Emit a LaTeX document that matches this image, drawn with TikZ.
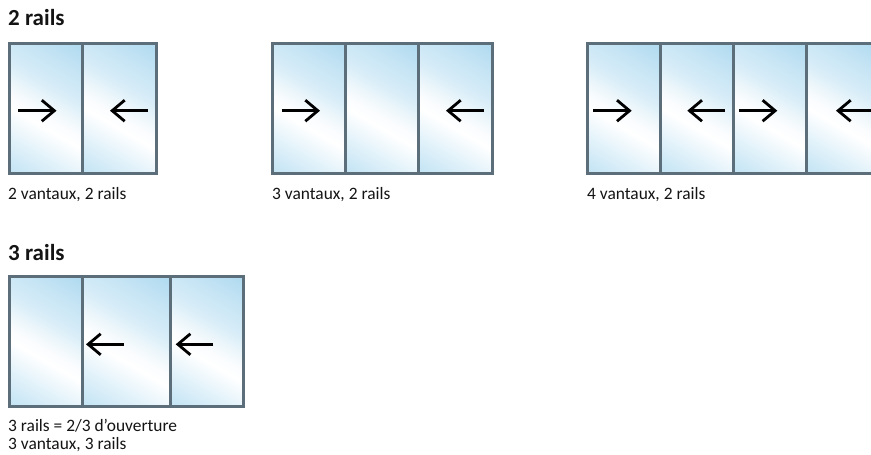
\documentclass[tikz,border=0pt]{standalone}
\usepackage{fontspec}
\setmainfont{Carlito}
\usetikzlibrary{arrows.meta}
\definecolor{framec}{HTML}{5B6E7A}
\definecolor{ga}{HTML}{BDE1F3}
\definecolor{gb}{HTML}{E2F2FA}
\definecolor{gc}{HTML}{FFFFFF}
\definecolor{gd}{HTML}{FAFCFE}
\definecolor{ge}{HTML}{EEF7FB}
\definecolor{gf}{HTML}{D8EDF8}
\definecolor{gg}{HTML}{C5E4F4}
\definecolor{gh}{HTML}{AFDAF0}
\pgfdeclarehorizontalshading{panegrad}{100bp}{
 color(0bp)=(ga);
 color(14bp)=(ga);
 color(30bp)=(gb);
 color(42bp)=(gc);
 color(47bp)=(gd);
 color(52bp)=(ge);
 color(60bp)=(gf);
 color(72bp)=(gg);
 color(84bp)=(gh);
 color(100bp)=(gh)}
\tikzset{
 pane/.style={shading=panegrad,shading angle=60,draw=none},
 frameline/.style={draw=framec,line width=3pt},
 arrowline/.style={draw=black,line width=2.8pt,-{Straight Barb[length=12.5pt,width=21pt,line width=2.8pt]}},
 caption/.style={anchor=base west,inner sep=0pt,font=\fontsize{17.4}{17.4}\selectfont,text=black!92},
 heading/.style={anchor=base west,inner sep=0pt,font=\fontsize{23}{23}\selectfont\bfseries,text=black!92}
}
\newcommand{\slider}[4]{% name, tailx, tipx, y
 \coordinate (#1t) at (#2,#4);
 \coordinate (#1h) at (#3,#4);
 \draw[arrowline] (#1t) -- (#1h);
}
\begin{document}
\begin{tikzpicture}[x=1pt,y=-1pt]
\useasboundingbox (0,0) rectangle (871,455);
\fill[white] (0,0) rectangle (871,455);
\node[heading] (h2) at (8,25) {2 rails};
% window A
\foreach \a/\b in {9/82,82/156}{\shade[pane] (\a,43) rectangle (\b,173.5);}
\draw[frameline] (9,43) rectangle (156,173.5);
\draw[frameline] (82,43) -- (82,173.5);
\slider{a1}{18}{56.5}{110.7}
\slider{a2}{147.7}{110}{110.7}
\node[caption] (ca) at (8,199) {2 vantaux, 2 rails};
% window B
\foreach \a/\b in {272.5/345.2,345.2/418,418/492}{\shade[pane] (\a,43) rectangle (\b,173.5);}
\draw[frameline] (272.5,43) rectangle (492,173.5);
\draw[frameline] (345.2,43) -- (345.2,173.5);
\draw[frameline] (418,43) -- (418,173.5);
\slider{b1}{281.7}{320}{110.7}
\slider{b2}{484}{446}{110.7}
\node[caption] (cb) at (272,199) {3 vantaux, 2 rails};
% window C
\foreach \a/\b in {587.5/660,660/733,733/806,806/879}{\shade[pane] (\a,43) rectangle (\b,173.5);}
\draw[frameline] (587.5,43) rectangle (885,173.5);
\draw[frameline] (660,43) -- (660,173.5);
\draw[frameline] (733,43) -- (733,173.5);
\draw[frameline] (806,43) -- (806,173.5);
\slider{c1}{593.3}{631.7}{110.7}
\slider{c2}{725}{687.3}{110.7}
\slider{c3}{739}{777.3}{110.7}
\slider{c4}{874}{836}{110.7}
\node[caption] (cc) at (587,199) {4 vantaux, 2 rails};
% window D
\node[heading] (h3) at (8,260) {3 rails};
\foreach \a/\b in {9/82,82/170,170/243}{\shade[pane] (\a,276) rectangle (\b,406.5);}
\draw[frameline] (9,276) rectangle (243,406.5);
\draw[frameline] (82,276) -- (82,406.5);
\draw[frameline] (170,276) -- (170,406.5);
\slider{d1}{123.7}{86}{344.3}
\slider{d2}{213.3}{175.7}{344.3}
\node[caption] (cd1) at (8,431.5) {3 rails = 2/3 d’ouverture};
\node[caption] (cd2) at (8,449.5) {3 vantaux, 3 rails};
\end{tikzpicture}
\end{document}
